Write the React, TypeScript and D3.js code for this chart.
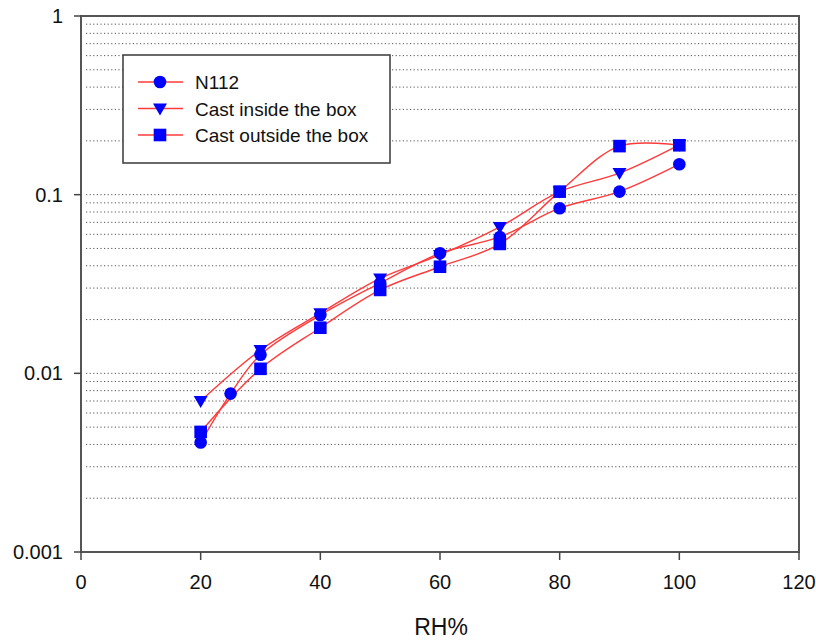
import React from "react";
import * as d3 from "d3";

const n112X = [20, 25, 30, 40, 50, 60, 70, 80, 90, 100];
const n112Y = [0.0041, 0.0077, 0.0127, 0.0212, 0.032, 0.047, 0.058, 0.084, 0.104, 0.148];
const castX = [20, 30, 40, 50, 60, 70, 80, 90, 100];
const insideY = [0.007, 0.0135, 0.0217, 0.034, 0.046, 0.066, 0.104, 0.132, 0.19];
const outsideY = [0.0047, 0.0106, 0.018, 0.0293, 0.0395, 0.053, 0.104, 0.187, 0.189];
const xTicks = [0, 20, 40, 60, 80, 100, 120];
const yTicks = [1, 0.1, 0.01, 0.001];
const yTickLabels = ["1", "0.1", "0.01", "0.001"];
const seriesNames = ["N112", "Cast inside the box", "Cast outside the box"];
const xTitle = "RH%";

const W = 816, H = 642;
const L = 81, R = 799, T = 16, B = 552;
const FONT = "'Liberation Sans', Arial, sans-serif";

export default function App() {
  const x = d3.scaleLinear().domain([0, 120]).range([L, R]);
  const y = d3.scaleLog().domain([0.001, 1]).range([B, T]);

  const grid: number[] = [];
  [0.001, 0.01, 0.1].forEach((d) => {
    for (let k = 1; k <= 9; k++) {
      const v = d * k;
      if (v > 0.0011 && v < 0.99) grid.push(v);
    }
  });

  const line = d3
    .line<[number, number]>()
    .x((d) => x(d[0]))
    .y((d) => y(d[1]))
    .curve(d3.curveCatmullRom.alpha(0.5));

  const series = [
    { xs: n112X, ys: n112Y, shape: "circle" },
    { xs: castX, ys: insideY, shape: "tri" },
    { xs: castX, ys: outsideY, shape: "square" },
  ];

  const marker = (shape: string, cx: number, cy: number, key: string) => {
    if (shape === "circle") return <circle key={key} cx={cx} cy={cy} r={6.3} fill="#0000ff" />;
    if (shape === "square")
      return <rect key={key} x={cx - 6.3} y={cy - 6.3} width={12.6} height={12.6} fill="#0000ff" />;
    return (
      <path
        key={key}
        d={`M${cx - 7},${cy - 5} L${cx + 7},${cy - 5} L${cx},${cy + 7} Z`}
        fill="#0000ff"
      />
    );
  };

  return (
    <svg
      width={W}
      height={H}
      style={{ position: "absolute", left: 0, top: 0, background: "#fff" }}
    >
      <rect x={0} y={0} width={W} height={H} fill="#fff" />
      {grid.map((v, i) => (
        <line
          key={"g" + i}
          x1={L + 5}
          x2={R - 2}
          y1={y(v)}
          y2={y(v)}
          stroke="#555"
          strokeWidth={1}
          strokeDasharray="1.2,2.4"
        />
      ))}
      {/* frame */}
      <rect x={L} y={T} width={R - L} height={B - T} fill="none" stroke="#555" strokeWidth={2} />
      {yTicks.map((v, i) => (
        <g key={"yt" + i}>
          <line x1={L - 7} x2={L} y1={y(v)} y2={y(v)} stroke="#444" strokeWidth={1.5} />
          <text
            x={63}
            y={y(v) + 7}
            textAnchor="end"
            fontFamily={FONT}
            fontSize={20}
            fill="#111"
          >
            {yTickLabels[i]}
          </text>
        </g>
      ))}
      {xTicks.map((v, i) => (
        <g key={"xt" + i}>
          <line x1={x(v)} x2={x(v)} y1={B} y2={B + 8} stroke="#444" strokeWidth={1.5} />
          <text x={x(v)} y={589} textAnchor="middle" fontFamily={FONT} fontSize={20} fill="#111">
            {v}
          </text>
        </g>
      ))}
      <text x={441} y={635} textAnchor="middle" fontFamily={FONT} fontSize={23} fill="#111">
        {xTitle}
      </text>
      {series.map((s, si) => (
        <path
          key={"l" + si}
          d={line(s.xs.map((xv, i) => [xv, s.ys[i]] as [number, number])) || ""}
          fill="none"
          stroke="#ff3b3b"
          strokeWidth={1.4}
        />
      ))}
      {series.map((s, si) =>
        s.xs.map((xv, i) => marker(s.shape, x(xv), y(s.ys[i]), `m${si}-${i}`))
      )}
      {/* legend */}
      <rect x={123} y={55} width={267} height={108} fill="#fff" stroke="#444" strokeWidth={1.6} />
      {series.map((s, i) => {
        const ly = 82 + i * 26.5;
        return (
          <g key={"lg" + i}>
            <line x1={138} x2={183} y1={ly} y2={ly} stroke="#ff3b3b" strokeWidth={1.4} />
            {marker(s.shape, 160, ly, "lm" + i)}
            <text x={195} y={ly + 7} fontFamily={FONT} fontSize={19} fill="#111">
              {seriesNames[i]}
            </text>
          </g>
        );
      })}
    </svg>
  );
}
